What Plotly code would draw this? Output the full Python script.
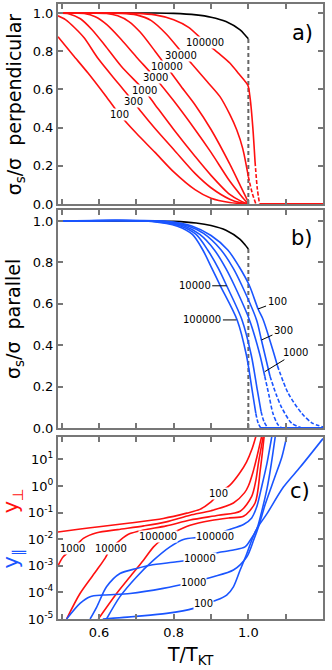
import numpy as np
import plotly.graph_objects as go

RED = "#ff1010"
BLUE = "#1a55ff"
GRAY = "#777777"
FONT = "DejaVu Sans"

# ---- panel a: sigma_s/sigma perpendicular (red), L = 100 ... 100000
black_T = [0.49, 0.75, 0.80, 0.86, 0.90, 0.94, 0.978, 0.991, 1.0]
black_v = [1.0, 1.0, 0.998, 0.99, 0.978, 0.955, 0.911, 0.885, 0.865]

a_T_100 = [0.49, 0.53, 0.571, 0.62, 0.656, 0.70, 0.75, 0.80, 0.857, 0.90, 0.95, 1.0]
a_v_100 = [0.875, 0.78, 0.684, 0.56, 0.466, 0.37, 0.27, 0.168, 0.075, 0.03, 0.008, 0.0]
a_T_300 = [0.49, 0.51, 0.536, 0.56, 0.598, 0.65, 0.692, 0.714, 0.75, 0.80, 0.857, 0.90, 0.95, 0.98, 1.0]
a_v_300 = [0.985, 0.965, 0.92, 0.87, 0.76, 0.635, 0.536, 0.48, 0.395, 0.285, 0.16, 0.085, 0.025, 0.006, 0.0]
a_T_1000 = [0.49, 0.52, 0.55, 0.58, 0.616, 0.66, 0.7225, 0.75, 0.80, 0.857, 0.90, 0.95, 0.98, 1.0]
a_v_1000 = [1.0, 0.995, 0.97, 0.915, 0.83, 0.72, 0.592, 0.52, 0.39, 0.25, 0.15, 0.05, 0.015, 0.0]
a_T_3000 = [0.49, 0.56, 0.59, 0.62, 0.66, 0.70, 0.75, 0.80, 0.857, 0.90, 0.95, 0.98, 1.0]
a_v_3000 = [1.0, 0.997, 0.98, 0.94, 0.86, 0.77, 0.661, 0.54, 0.39, 0.27, 0.12, 0.045, 0.0]
a_T_10000 = [0.49, 0.62, 0.65, 0.68, 0.71, 0.75, 0.781, 0.82, 0.857, 0.90, 0.95, 0.98, 1.0]
a_v_10000 = [1.0, 0.997, 0.985, 0.955, 0.90, 0.80, 0.719, 0.615, 0.52, 0.39, 0.21, 0.09, 0.01]
a_T_30000 = [0.49, 0.66, 0.70, 0.74, 0.78, 0.819, 0.85, 0.89, 0.924, 0.95, 0.969, 0.985, 1.0]
a_v_30000 = [1.0, 0.998, 0.99, 0.96, 0.89, 0.80, 0.73, 0.64, 0.562, 0.47, 0.387, 0.29, 0.143]
a_T_30000_dash = [1.0, 1.01, 1.02]
a_v_30000_dash = [0.143, 0.06, 0.0]
a_T_100000 = [0.49, 0.70, 0.75, 0.80, 0.84, 0.884, 0.92, 0.951, 0.975, 0.99, 0.999, 1.005, 1.012, 1.018]
a_v_100000 = [1.0, 0.998, 0.99, 0.965, 0.925, 0.847, 0.79, 0.737, 0.68, 0.645, 0.62, 0.55, 0.40, 0.22]
a_T_100000_dash = [1.018, 1.024, 1.03]
a_v_100000_dash = [0.22, 0.08, 0.0]

# ---- panel b: sigma_s/sigma parallel (blue)
b_T_100 = [0.49, 0.78, 0.85, 0.90, 0.945, 0.975, 1.003, 1.026, 1.04, 1.065, 1.078]
b_v_100 = [1.0, 0.998, 0.975, 0.93, 0.86, 0.78, 0.687, 0.575, 0.522, 0.38, 0.30]
b_T_100_dash = [1.078, 1.107, 1.143, 1.17, 1.2]
b_v_100_dash = [0.30, 0.167, 0.071, 0.025, 0.005]
b_T_300 = [0.49, 0.77, 0.84, 0.88, 0.927, 0.96, 0.983, 1.022, 1.035, 1.058]
b_v_300 = [1.0, 0.998, 0.975, 0.94, 0.86, 0.77, 0.687, 0.522, 0.425, 0.25]
b_T_300_dash = [1.058, 1.075, 1.089, 1.116, 1.143]
b_v_300_dash = [0.25, 0.16, 0.10, 0.023, 0.0]
b_T_1000 = [0.49, 0.76, 0.83, 0.87, 0.909, 0.94, 0.963, 1.003, 1.03, 1.044]
b_v_1000 = [1.0, 0.998, 0.975, 0.935, 0.86, 0.77, 0.687, 0.522, 0.36, 0.25]
b_T_1000_dash = [1.044, 1.055, 1.066, 1.08, 1.09]
b_v_1000_dash = [0.25, 0.16, 0.07, 0.014, 0.0]
b_T_10000 = [0.49, 0.75, 0.82, 0.86, 0.891, 0.92, 0.942, 0.983, 1.008, 1.024, 1.034]
b_v_10000 = [1.0, 0.998, 0.975, 0.935, 0.86, 0.77, 0.687, 0.522, 0.35, 0.184, 0.08]
b_T_10000_dash = [1.034, 1.042, 1.052]
b_v_10000_dash = [0.08, 0.03, 0.0]
b_T_100000 = [0.49, 0.74, 0.81, 0.85, 0.878, 0.90, 0.925, 0.97, 0.995, 1.01, 1.02]
b_v_100000 = [1.0, 0.998, 0.975, 0.935, 0.86, 0.78, 0.687, 0.522, 0.35, 0.184, 0.07]
b_T_100000_dash = [1.02, 1.026, 1.033]
b_v_100000_dash = [0.07, 0.025, 0.0]

# ---- panel c: log10 of fugacities y_perp (red) and y_par (blue)
c_T_red_100 = [0.49, 0.55, 0.60, 0.683, 0.772, 0.835, 0.87, 0.90, 0.92, 0.95, 0.975, 0.995, 1.01, 1.022]
c_L_red_100 = [-1.73, -1.62, -1.53, -1.39, -1.22, -1.02, -0.88, -0.60, -0.30, 0.02, 0.45, 0.90, 1.40, 1.95]
c_T_red_1000 = [0.49, 0.504, 0.531, 0.558, 0.594, 0.65, 0.72, 0.78, 0.844, 0.90, 0.96, 0.99, 1.0, 1.012, 1.023, 1.037]
c_L_red_1000 = [-3.0, -2.66, -2.35, -1.97, -1.76, -1.64, -1.50, -1.35, -1.10, -0.93, -0.64, -0.25, 0.0, 0.5, 1.1, 1.95]
c_T_red_10000 = [0.513, 0.549, 0.594, 0.616, 0.629, 0.656, 0.683, 0.719, 0.78, 0.844, 0.92, 0.978, 1.009, 1.02, 1.027, 1.041]
c_L_red_10000 = [-5.0, -4.04, -3.16, -2.72, -2.40, -2.04, -1.79, -1.66, -1.50, -1.28, -1.10, -0.95, -0.39, 0.2, 0.86, 1.95]
c_T_red_100000 = [0.598, 0.647, 0.683, 0.719, 0.746, 0.77, 0.799, 0.844, 0.90, 0.95, 0.987, 1.018, 1.032, 1.043]
c_L_red_100000 = [-5.0, -4.04, -3.41, -2.79, -2.29, -2.0, -1.76, -1.48, -1.30, -1.20, -1.14, -0.64, 0.61, 1.95]

c_T_blue_100000 = [0.62, 0.656, 0.701, 0.746, 0.79, 0.826, 0.87, 0.91, 0.942, 0.987, 1.009, 1.023, 1.036, 1.05, 1.064]
c_L_blue_100000 = [-5.0, -4.16, -3.41, -2.79, -2.29, -2.01, -1.93, -1.85, -1.67, -1.45, -1.20, -0.76, -0.01, 0.86, 1.95]
c_T_blue_10000 = [0.576, 0.594, 0.62, 0.656, 0.701, 0.737, 0.808, 0.871, 0.906, 0.96, 0.991, 1.005, 1.023, 1.035, 1.05, 1.06, 1.073]
c_L_blue_10000 = [-5.0, -4.54, -3.79, -3.29, -3.10, -2.98, -2.85, -2.72, -2.54, -2.41, -2.29, -2.04, -1.60, -1.0, -0.1, 0.7, 1.95]
c_T_blue_1000 = [0.513, 0.549, 0.576, 0.612, 0.683, 0.772, 0.848, 0.906, 0.96, 0.996, 1.014, 1.027, 1.045, 1.07, 1.09, 1.104]
c_L_blue_1000 = [-5.0, -4.41, -4.16, -4.10, -4.04, -3.85, -3.62, -3.41, -3.16, -2.66, -2.04, -1.54, -0.7, 0.3, 1.1, 1.95]
c_T_blue_100 = [0.61, 0.70, 0.781, 0.853, 0.88, 0.915, 0.942, 0.96, 0.978, 0.996, 1.009, 1.023, 1.05, 1.094, 1.139, 1.2]
c_L_blue_100 = [-5.0, -4.9, -4.79, -4.60, -4.44, -4.29, -4.10, -3.79, -3.16, -2.54, -2.04, -1.60, -1.04, -0.04, 0.71, 1.78]

T_KT = 1.0
T_max = 1.2

fig = go.Figure()


def curve(x, y, color, xa, ya, dash="solid", width=1.6):
    fig.add_trace(go.Scatter(
        x=x, y=y, mode="lines", xaxis=xa, yaxis=ya, showlegend=False, hoverinfo="skip",
        line=dict(color=color, width=width, dash=dash, shape="spline", smoothing=0.8),
    ))


# panel a
curve(black_T, black_v, "black", "x", "y")
curve([T_KT, T_KT], [0, black_v[-1]], "#666666", "x", "y", dash="4px,3px", width=2)
for T, v in [(a_T_100, a_v_100), (a_T_300, a_v_300), (a_T_1000, a_v_1000),
             (a_T_3000, a_v_3000), (a_T_10000, a_v_10000), (a_T_30000, a_v_30000),
             (a_T_100000, a_v_100000)]:
    curve(T, v, RED, "x", "y")
curve(a_T_30000_dash, a_v_30000_dash, RED, "x", "y", dash="4px,2px")
curve(a_T_100000_dash, a_v_100000_dash, RED, "x", "y", dash="4px,2px")
curve([a_T_100000_dash[-1], T_max], [0, 0], RED, "x", "y", width=2)

# panel b
curve(black_T, black_v, "black", "x2", "y2")
curve([T_KT, T_KT], [0, black_v[-1]], "#666666", "x2", "y2", dash="4px,3px", width=2)
for T, v, Td, vd in [(b_T_100, b_v_100, b_T_100_dash, b_v_100_dash),
                     (b_T_300, b_v_300, b_T_300_dash, b_v_300_dash),
                     (b_T_1000, b_v_1000, b_T_1000_dash, b_v_1000_dash),
                     (b_T_10000, b_v_10000, b_T_10000_dash, b_v_10000_dash),
                     (b_T_100000, b_v_100000, b_T_100000_dash, b_v_100000_dash)]:
    curve(T, v, BLUE, "x2", "y2")
    curve(Td, vd, BLUE, "x2", "y2", dash="4px,2px")
curve([b_T_100000_dash[-1], T_max], [0, 0], BLUE, "x2", "y2", width=2)

# panel c
for T, L in [(c_T_red_100, c_L_red_100), (c_T_red_1000, c_L_red_1000),
             (c_T_red_10000, c_L_red_10000), (c_T_red_100000, c_L_red_100000)]:
    curve(T, 10 ** np.array(L), RED, "x3", "y3")
for T, L in [(c_T_blue_100000, c_L_blue_100000), (c_T_blue_10000, c_L_blue_10000),
             (c_T_blue_1000, c_L_blue_1000), (c_T_blue_100, c_L_blue_100)]:
    curve(T, 10 ** np.array(L), BLUE, "x3", "y3")

# ---- labels
ann = []


def inline(text, x, y, xr, yr):
    ann.append(dict(text=text, x=x, y=y, xref=xr, yref=yr, showarrow=False,
                    bgcolor="white", borderpad=0, font=dict(size=10, color="black", family=FONT)))


for txt, x, y in [("100", 0.656, 0.466), ("300", 0.692, 0.536), ("1000", 0.7225, 0.592),
                  ("3000", 0.75, 0.661), ("10000", 0.781, 0.719), ("30000", 0.819, 0.776),
                  ("100000", 0.884, 0.847)]:
    inline(txt, x, y, "x", "y")

for txt, x, y in [("100", 0.92, -0.29), ("1000", 0.53, -2.35), ("10000", 0.632, -2.35),
                  ("100000", 0.757, -1.91), ("100000", 0.91, -1.91), ("10000", 0.871, -2.72),
                  ("1000", 0.852, -3.62), ("100", 0.88, -4.43)]:
    inline(txt, x, y, "x3", "y3")

# pointer labels of panel b
for txt, x, y, ax, ay in [("10000", 0.942, 0.687, -32, 0), ("100000", 0.968, 0.522, -34, 0),
                          ("100", 1.026, 0.575, 19, -7), ("300", 1.035, 0.425, 22, -10),
                          ("1000", 1.044, 0.272, 31, -19)]:
    ann.append(dict(text=txt, x=x, y=y, xref="x2", yref="y2", ax=ax, ay=ay, showarrow=True,
                    arrowhead=0, arrowwidth=1, arrowcolor="black", standoff=0,
                    font=dict(size=10, color="black", family=FONT)))


def side_text(text, x, y, size, color="black", angle=-90):
    ann.append(dict(text=text, x=x, y=y, xref="paper", yref="paper", textangle=angle,
                    xanchor="center", yanchor="middle", showarrow=False,
                    font=dict(size=size, color=color, family=FONT)))


side_text("a)", 0.921, 0.953, 21, angle=0)
side_text("b)", 0.921, 0.62, 21, angle=0)
side_text("c)", 0.913, 0.208, 21, angle=0)
side_text("σ<sub>s</sub>/σ  perpendicular", -0.162, 0.837, 19)
side_text("σ<sub>s</sub>/σ  parallel", -0.162, 0.488, 19)
side_text("y<sub>⊥</sub>", -0.172, 0.192, 21, RED)
side_text("y<sub>∥</sub>", -0.172, 0.099, 21, BLUE)
side_text("T/T<sub>KT</sub>", 0.5, -0.06, 19, angle=0)

axis_style = dict(showline=True, linecolor=GRAY, linewidth=2, mirror="ticks", ticks="inside",
                  ticklen=5, tickwidth=1.5, tickcolor=GRAY, showgrid=False, zeroline=False,
                  automargin=False, tickfont=dict(size=13, color="black", family=FONT))
x_ticks = [0.5, 0.6, 0.7, 0.8, 0.9, 1.0, 1.1, 1.2]
x_text = ["", "0.6", "", "0.8", "", "1.0", "", "1.2"]
v_ticks = [0.0, 0.2, 0.4, 0.6, 0.8, 1.0]
log_ticks = [1e-5, 1e-4, 1e-3, 1e-2, 1e-1, 1e0, 1e1]
log_text = ["10<sup>-5</sup>", "10<sup>-4</sup>", "10<sup>-3</sup>", "10<sup>-2</sup>",
            "10<sup>-1</sup>", "10<sup>0</sup>", "10<sup>1</sup>"]

fig.update_layout(
    width=332, height=670, margin=dict(l=58, r=9, t=4, b=51, autoexpand=False),
    paper_bgcolor="white", plot_bgcolor="white", annotations=ann,
    xaxis=dict(axis_style, domain=[0, 1], range=[0.49, 1.2], anchor="y",
               tickvals=x_ticks, showticklabels=False),
    yaxis=dict(axis_style, domain=[0.6748, 1], range=[0, 1.047], anchor="x",
               tickvals=v_ticks, tickformat=".1f"),
    xaxis2=dict(axis_style, domain=[0, 1], range=[0.49, 1.2], anchor="y2",
                tickvals=x_ticks, showticklabels=False),
    yaxis2=dict(axis_style, domain=[0.3106, 0.665], range=[0, 1.053], anchor="x2",
                tickvals=v_ticks, tickformat=".1f"),
    xaxis3=dict(axis_style, domain=[0, 1], range=[0.49, 1.2], anchor="y3",
                tickvals=x_ticks, ticktext=x_text),
    yaxis3=dict(axis_style, domain=[0, 0.2959], type="log", range=[-5, 1.84], anchor="x3",
                tickvals=log_ticks, ticktext=log_text),
)

# the page body has a default 8px margin; drop it so the figure fills the window
fig.write_html("out.html", config={"displayModeBar": False},
               post_script="document.body.style.margin='0px';")
